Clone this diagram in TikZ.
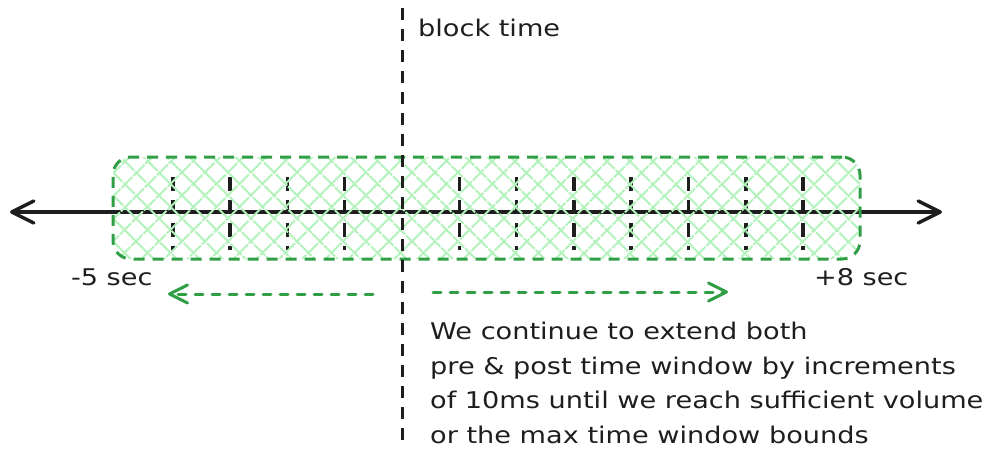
\documentclass[tikz,border=0pt]{standalone}
\usepackage{fontspec}
\setmainfont[FakeStretch=1.18]{DejaVu Sans}
\usepackage{tikz}
\usetikzlibrary{arrows.meta, patterns.meta, positioning}
\definecolor{inkblack}{HTML}{1E1E1E}
\definecolor{wingreen}{HTML}{2F9E44}
\definecolor{hatchgreen}{HTML}{B2F2BB}
\tikzset{
    axisbarb/.tip={Straight Barb[length=22pt, width=22pt, line width=3.5pt, round]},
    greenbarb/.tip={Straight Barb[length=18pt, width=18pt, line width=3pt, round]}
}

\begin{document}
\begin{tikzpicture}[x=1pt, y=-1pt, font=\fontsize{23}{34.5}\selectfont, text=inkblack,
    timeaxis/.style={draw=inkblack, line width=3.5pt, line cap=round},
    tickmark/.style={draw=inkblack, line width=3.5pt, dash pattern=on 14pt off 9pt},
    growarrow/.style={draw=wingreen, line width=3pt, line cap=round, dash pattern=on 8pt off 9pt},
    hatch/.style={pattern={Lines[angle=#1, distance=17pt, line width=2.4pt]}, pattern color=hatchgreen}]
    \useasboundingbox (0,0) rectangle (1007,463);

    % Time axis
    \coordinate (axisL) at (10,212);
    \coordinate (axisR) at (942,212);
    \draw[timeaxis, axisbarb-axisbarb] (axisL) -- (axisR);

    % Ticks, one per second
    \foreach \k in {-4,...,-1,1,2,...,7}
        \draw[tickmark] (402+57.3*\k,177) -- (402+57.3*\k,250);

    % Time window
    \node[draw=wingreen, line width=3pt, dash pattern=on 11pt off 8pt, rounded corners=18pt,
          minimum width=747pt, minimum height=102pt, preaction={hatch=45}, hatch=-45] (window) at (486.5,208) {};

    % Block time
    \coordinate (blockTop) at (402,8);
    \coordinate (blockBot) at (402,445);
    \draw[draw=inkblack, line width=3pt, dash pattern=on 12pt off 9pt] (blockTop) -- (blockBot);
    \node[anchor=base west, inner sep=0pt] (blocklbl) at (418,36) {block time};

    % Window bounds
    \node[below=8pt of window.south west, inner sep=0pt] (prelbl) {-5 sec};
    \node[below=8pt of window.south east, inner sep=0pt] (postlbl) {+8 sec};

    % Extend both ways
    \coordinate (preStart) at (373,294);
    \coordinate (preEnd) at (168,294);
    \coordinate (postStart) at (433,292);
    \coordinate (postEnd) at (728,292);
    \draw[growarrow, -greenbarb] (preStart) -- (preEnd);
    \draw[growarrow, -greenbarb] (postStart) -- (postEnd);

    \node[anchor=north west, align=left, inner sep=0pt] (note) at (430,322)
        {We continue to extend both\\pre \& post time window by increments\\of 10ms until we reach sufficient volume\\or the max time window bounds};
\end{tikzpicture}
\end{document}
